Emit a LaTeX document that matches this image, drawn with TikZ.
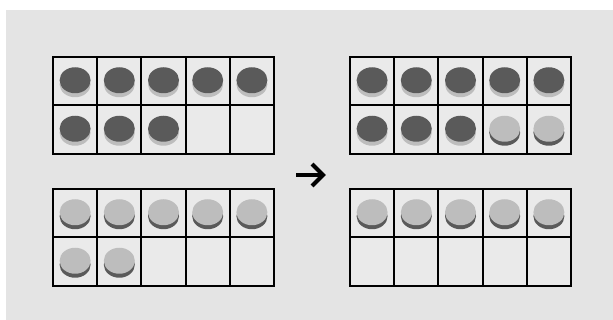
\documentclass[tikz,border=0pt]{standalone}
\usetikzlibrary{arrows.meta}
\definecolor{bg}{HTML}{E4E4E4}
\definecolor{cellbg}{HTML}{EAEAEA}
\definecolor{darkc}{HTML}{5A5A5A}
\definecolor{lightc}{HTML}{BDBDBD}
\tikzset{
  cellfill/.style={fill=cellbg},
  gridline/.style={draw=black, line width=2pt},
  darktop/.style={fill=darkc},
  darkedge/.style={fill=lightc},
  lighttop/.style={fill=lightc},
  lightedge/.style={fill=darkc},
  arrowshaft/.style={line width=4.5pt},
  arrowhead/.style={line width=4pt, line join=miter}
}
\newcommand\tenframe[3]{%
  \fill[cellfill] (#1,#2) rectangle ++(221,97);
  \foreach \t [count=\i from 0] in {#3}{%
    \pgfmathtruncatemacro\cc{mod(\i,5)}%
    \pgfmathtruncatemacro\rr{int(\i/5)}%
    \pgfmathsetmacro\cx{#1+(\cc+0.5)*44.2}%
    \pgfmathsetmacro\cy{#2+(\rr+0.5)*48.5}%
    \ifnum\t=1
      \fill[darkedge] (\cx,\cy+3) ellipse [x radius=15.5, y radius=13];
      \fill[darktop] (\cx,\cy-1) ellipse [x radius=15.5, y radius=13];
    \fi
    \ifnum\t=2
      \fill[lightedge] (\cx,\cy+3) ellipse [x radius=15.5, y radius=13];
      \fill[lighttop] (\cx,\cy-1) ellipse [x radius=15.5, y radius=13];
    \fi
  }%
  \draw[gridline] (#1,#2) rectangle ++(221,97);
  \draw[gridline] (#1,#2+48.5) -- ++(221,0);
  \foreach \k in {1,2,3,4}{\draw[gridline] (#1+\k*44.2,#2) -- ++(0,97);}
}
\begin{document}
\begin{tikzpicture}[x=1pt,y=-1pt]
\useasboundingbox (0,0) rectangle (613,320);
\fill[bg] (6,10) rectangle (613,320);
\tenframe{53}{57}{1,1,1,1,1,1,1,1,0,0}
\tenframe{350}{57}{1,1,1,1,1,1,1,1,2,2}
\tenframe{53}{189}{2,2,2,2,2,2,2,0,0,0}
\tenframe{350}{189}{2,2,2,2,2,0,0,0,0,0}
\coordinate (arrowstart) at (296,175);
\coordinate (arrowend) at (323,175);
\draw[arrowshaft] (arrowstart) -- (arrowend);
\draw[arrowhead] ([shift={(-11,-11)}]arrowend) -- (arrowend) -- ([shift={(-11,11)}]arrowend);
\end{tikzpicture}
\end{document}
